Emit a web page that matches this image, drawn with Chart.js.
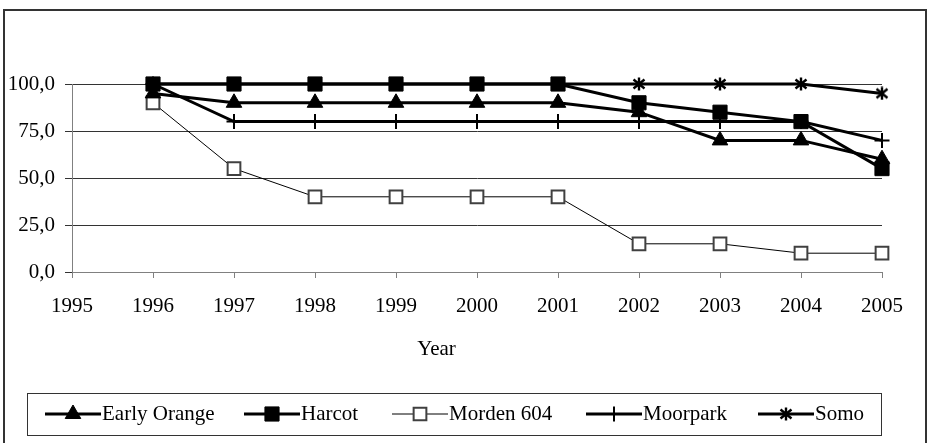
<!DOCTYPE html>
<html>
<head>
<meta charset="utf-8">
<script src="https://cdn.jsdelivr.net/npm/chart.js@4/dist/chart.umd.min.js"></script>
<style>
    body { margin: 0; background: #fff; }
    #wrap { width: 927px; height: 443px; position: relative; }
</style>
</head>
<body>
<div id="wrap"><canvas id="cultivarChart"></canvas></div>
<script>
// data
const years = [1996, 1997, 1998, 1999, 2000, 2001, 2002, 2003, 2004, 2005];
const earlyOrange = [95, 90, 90, 90, 90, 90, 85, 70, 70, 60];
const harcot = [100, 100, 100, 100, 100, 100, 90, 85, 80, 55];
const morden604 = [90, 55, 40, 40, 40, 40, 15, 15, 10, 10];
const moorpark = [100, 80, 80, 80, 80, 80, 80, 80, 80, 70];
const somo = [100, 100, 100, 100, 100, 100, 100, 100, 100, 95];
const seriesNames = ["Early Orange", "Harcot", "Morden 604", "Moorpark", "Somo"];
const xAxisTitle = "Year";

const FONT = "'Liberation Serif', 'Times New Roman', serif";
const FONT_SIZE = 21;

// asterisk marker (X with a vertical bar)
function makeAsterisk() {
    const c = document.createElement("canvas");
    c.width = 14;
    c.height = 14;
    const g = c.getContext("2d");
    g.strokeStyle = "#000";
    g.lineWidth = 2.4;
    g.beginPath();
    g.moveTo(1.5, 2.5); g.lineTo(12.5, 11.5);
    g.moveTo(12.5, 2.5); g.lineTo(1.5, 11.5);
    g.moveTo(7, 0.5); g.lineTo(7, 13.5);
    g.stroke();
    return c;
}
const asterisk = makeAsterisk();

function toPoints(values) {
    return values.map((v, i) => ({ x: years[i], y: v }));
}

const datasets = [
    { label: seriesNames[0], data: toPoints(earlyOrange), borderColor: "#000", borderWidth: 3,
      pointStyle: "triangle", pointRadius: 9, pointBackgroundColor: "#000", pointBorderColor: "#000", pointBorderWidth: 1 },
    { label: seriesNames[1], data: toPoints(harcot), borderColor: "#000", borderWidth: 3,
      pointStyle: "rect", pointRadius: 10, pointBackgroundColor: "#000", pointBorderColor: "#000", pointBorderWidth: 1 },
    { label: seriesNames[2], data: toPoints(morden604), borderColor: "#000", borderWidth: 1,
      pointStyle: "rect", pointRadius: 9, pointBackgroundColor: "#fff", pointBorderColor: "#404040", pointBorderWidth: 2 },
    { label: seriesNames[3], data: toPoints(moorpark), borderColor: "#000", borderWidth: 3,
      pointStyle: "cross", pointRadius: 7.5, pointBackgroundColor: "#000", pointBorderColor: "#000", pointBorderWidth: 2 },
    { label: seriesNames[4], data: toPoints(somo), borderColor: "#000", borderWidth: 3,
      pointStyle: asterisk, pointRadius: 7, pointBackgroundColor: "#000", pointBorderColor: "#000", pointBorderWidth: 2 }
];
datasets.forEach((ds) => { ds.clip = false; });

// frame, axis title and the boxed legend are drawn by hand
const extrasPlugin = {
    id: "extras",
    afterDraw(chart) {
        const ctx = chart.ctx;
        const xScale = chart.scales.x;
        ctx.save();

        // outer frame
        ctx.strokeStyle = "#333";
        ctx.lineWidth = 2;
        ctx.strokeRect(4, 10, 922, 460);

        // axis title
        ctx.fillStyle = "#000";
        ctx.font = FONT_SIZE + "px " + FONT;
        ctx.textAlign = "center";
        ctx.textBaseline = "middle";
        ctx.fillText(xAxisTitle, xScale.getPixelForValue(1999.5), 349);

        // legend box
        ctx.strokeStyle = "#333";
        ctx.lineWidth = 1;
        ctx.strokeRect(27.5, 393.5, 854, 42);

        const starts = [45, 244, 392, 586, 758];
        const rowY = 414;
        chart.data.datasets.forEach((ds, i) => {
            const x0 = starts[i];
            const x1 = x0 + 56;
            ctx.strokeStyle = ds.borderColor;
            ctx.lineWidth = ds.borderWidth;
            ctx.beginPath();
            ctx.moveTo(x0, rowY);
            ctx.lineTo(x1, rowY);
            ctx.stroke();

            ctx.fillStyle = ds.pointBackgroundColor;
            ctx.strokeStyle = ds.pointBorderColor;
            ctx.lineWidth = ds.pointBorderWidth;
            Chart.helpers.drawPoint(ctx, {
                pointStyle: ds.pointStyle,
                radius: ds.pointRadius,
                rotation: 0,
                borderWidth: ds.pointBorderWidth
            }, (x0 + x1) / 2, rowY);

            ctx.fillStyle = "#000";
            ctx.textAlign = "left";
            ctx.textBaseline = "middle";
            ctx.fillText(ds.label, x1 + 1, rowY);
        });
        ctx.restore();
    }
};

document.addEventListener("DOMContentLoaded", () => {
    const ctx = document.getElementById("cultivarChart").getContext("2d");
    new Chart(ctx, {
        type: "line",
        data: { datasets: datasets },
        options: {
            responsive: true,
            maintainAspectRatio: false,
            animation: false,
            layout: { padding: { top: 84, right: 45, left: 0, bottom: 0 } },
            plugins: {
                legend: { display: false },
                tooltip: { enabled: false }
            },
            elements: { line: { tension: 0 } },
            scales: {
                x: {
                    type: "linear",
                    min: 1995,
                    max: 2005,
                    afterFit: (scale) => { scale.height = 171; },
                    ticks: {
                        stepSize: 1,
                        padding: 16,
                        color: "#000",
                        font: { family: FONT, size: FONT_SIZE },
                        maxRotation: 0,
                        autoSkip: false,
                        callback: (v) => String(v)
                    },
                    grid: { drawOnChartArea: false, tickLength: 6, color: "#808080" },
                    border: { color: "#808080", width: 1 }
                },
                y: {
                    min: 0,
                    max: 100,
                    afterFit: (scale) => { scale.width = 72; },
                    ticks: {
                        stepSize: 25,
                        padding: 10,
                        color: "#000",
                        font: { family: FONT, size: FONT_SIZE },
                        callback: (v) => v.toFixed(1).replace(".", ",")
                    },
                    grid: { color: "#333", tickLength: 7 },
                    border: { color: "#808080", width: 1 }
                }
            }
        },
        plugins: [extrasPlugin]
    });
});
</script>
</body>
</html>
